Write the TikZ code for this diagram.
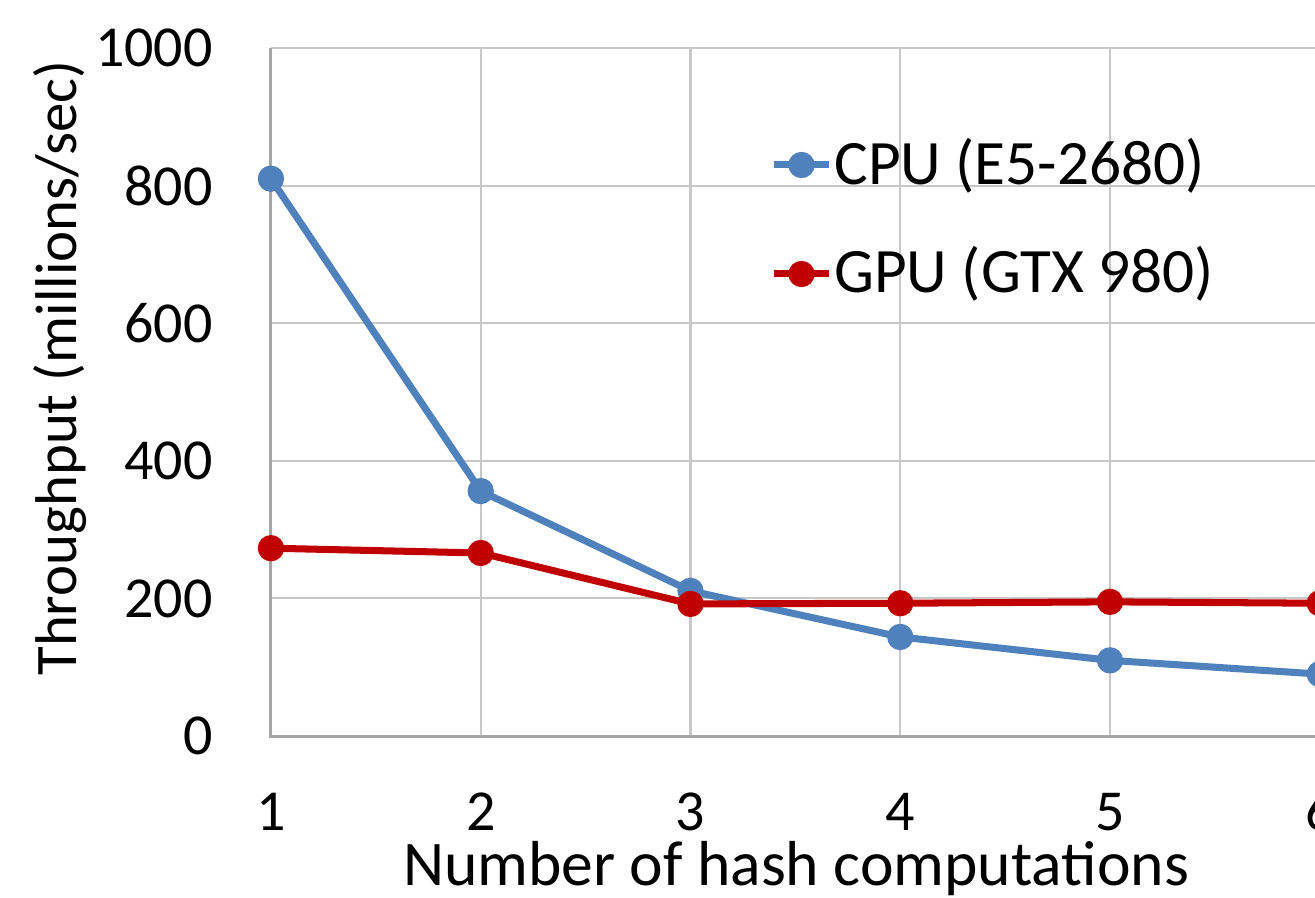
\documentclass[tikz,border=0pt]{standalone}
\usepackage{fontspec}
\setmainfont{Carlito}
\usepackage{tikz}
\usetikzlibrary{positioning,calc}
\definecolor{cpublue}{HTML}{4F81BD}
\definecolor{gpured}{HTML}{C00000}
\definecolor{gridgray}{HTML}{C8C8C8}
\definecolor{axisgray}{HTML}{A6A6A6}
\tikzset{
  gridline/.style={draw=gridgray, line width=1.2pt},
  axisline/.style={draw=axisgray, line width=1.7pt},
  series/.style={line width=4pt, line join=round, line cap=round},
  cpuline/.style={series, draw=cpublue},
  gpuline/.style={series, draw=gpured},
  ticklab/.style={font=\fontsize{33}{38}\selectfont, inner sep=0pt},
  axislab/.style={font=\fontsize{33.5}{40}\selectfont, inner sep=0pt},
  legtext/.style={font=\fontsize{36}{42}\selectfont, inner sep=0pt},
  titlelab/.style={font=\fontsize{36.2}{42}\selectfont, inner sep=0pt}
}
\newcommand{\markrad}{7.5pt}

\begin{document}
\begin{tikzpicture}[x=0.02cm, y=0.02cm]
\useasboundingbox (0,0) rectangle (1315,898);
\clip (0,0) rectangle (1315,898);
% plot area: one x step = 209.8px, 1000 units = 688px
\begin{scope}[shift={(1.224cm,3.24cm)}, x=4.196cm, y=0.01376cm]
\foreach \v in {200,400,600,800,1000}
  \draw[gridline] (1,\v) -- (6.3,\v);
\foreach \k in {2,...,5}
  \draw[gridline] (\k,0) -- (\k,1000);
\draw[axisline] (1,1000) -- (1,0) -- (6.3,0);
% tick labels
\foreach \v in {0,200,400,600,800,1000}
  \node[ticklab, anchor=east] (ytick\v) at ([xshift=-33pt]1,\v) {\v};
\foreach \k in {1,...,6}
  \node[ticklab, anchor=base] (xtick\k) at ([yshift=-53.5pt]\k,0) {\k};
% data
\foreach \k/\c/\g in {1/810/273, 2/356/266, 3/211/192, 4/144/193, 5/110/195, 6/90/193} {
  \coordinate (cpu\k) at (\k,\c);
  \coordinate (gpu\k) at (\k,\g);
}
\draw[cpuline] (cpu1) -- (cpu2) -- (cpu3) -- (cpu4) -- (cpu5) -- (cpu6);
\foreach \k in {1,...,6}
  \fill[cpublue] (cpu\k) circle[radius=\markrad];
\draw[gpuline] (gpu1) -- (gpu2) -- (gpu3) -- (gpu4) -- (gpu5) -- (gpu6);
\foreach \k in {1,...,6}
  \fill[gpured] (gpu\k) circle[radius=\markrad];
\end{scope}
% axis titles
\node[axislab, rotate=90, anchor=base] (ytitle) at (77,530) {Throughput (millions/sec)};
\node[titlelab, anchor=base] (xtitle) at (796,12) {Number of hash computations};
% legend
\coordinate (cpuL) at (774,733);
\coordinate (cpuR) at (829,733);
\coordinate (gpuL) at (774,624);
\coordinate (gpuR) at (829,624);
\draw[cpuline, line cap=butt] (cpuL) -- (cpuR);
\fill[cpublue] ($(cpuL)!0.5!(cpuR)$) circle[radius=\markrad];
\draw[gpuline, line cap=butt] (gpuL) -- (gpuR);
\fill[gpured] ($(gpuL)!0.5!(gpuR)$) circle[radius=\markrad];
\node[legtext, anchor=base west] (cpulab) at (834,713) {CPU (E5-2680)};
\node[legtext, anchor=base west] (gpulab) at (834,605) {GPU (GTX 980)};
\end{tikzpicture}
\end{document}
